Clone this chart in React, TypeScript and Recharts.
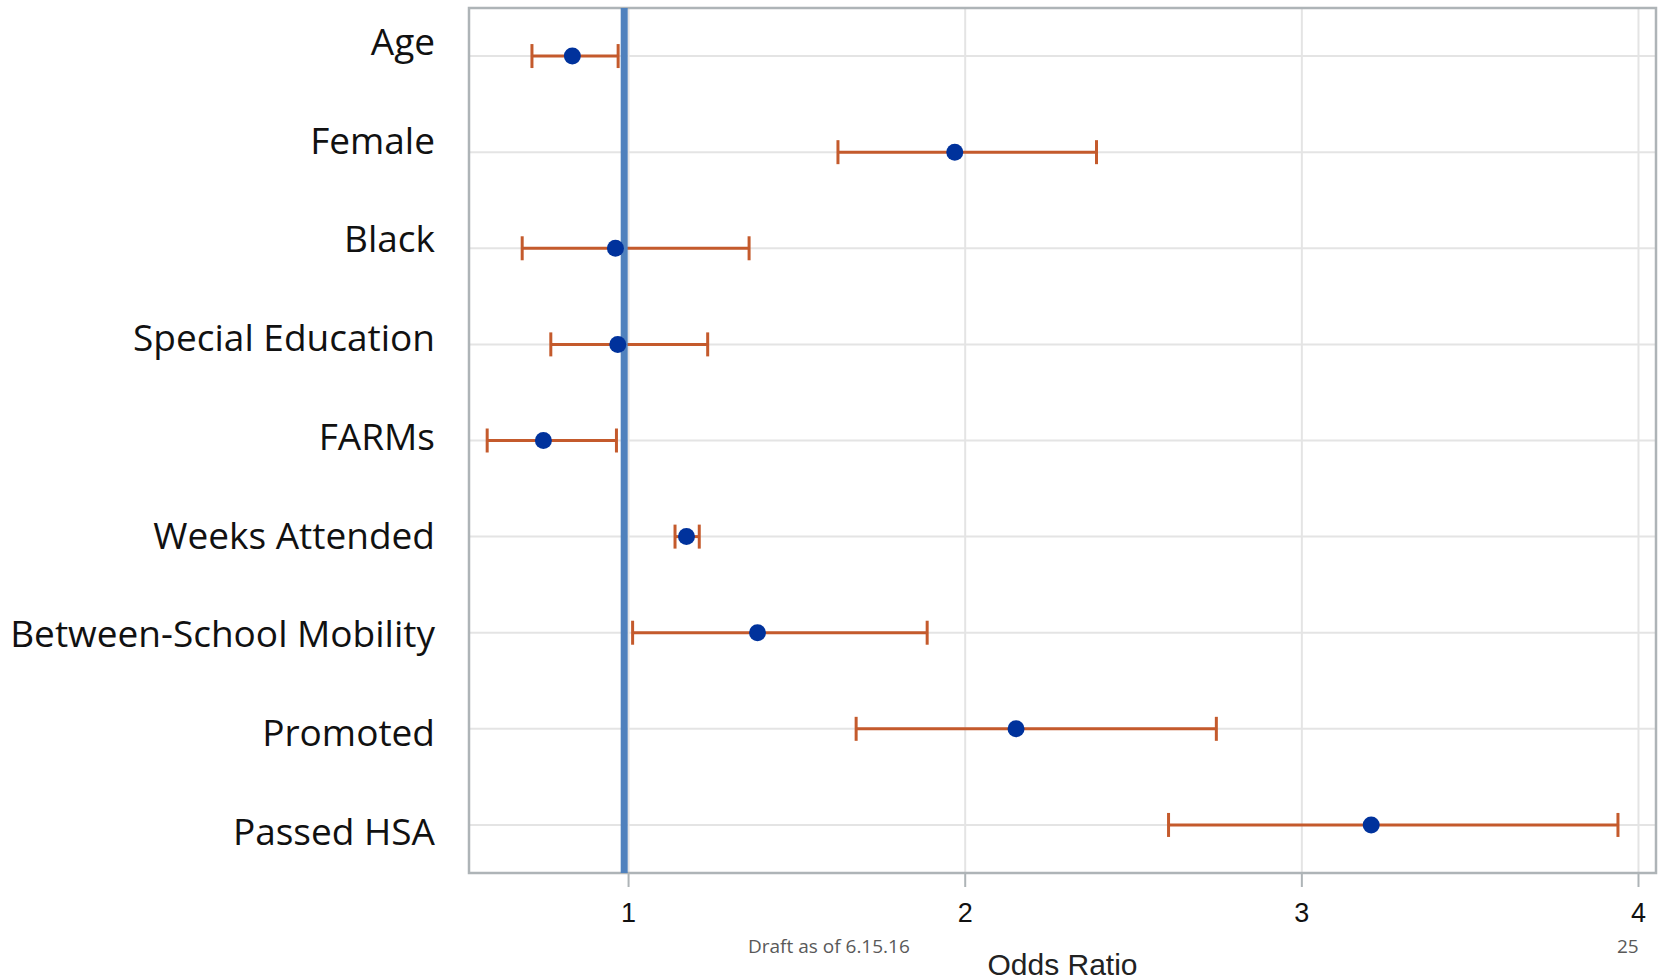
import {
  ScatterChart,
  Scatter,
  XAxis,
  YAxis,
  CartesianGrid,
  ErrorBar,
  ReferenceLine,
  ReferenceArea,
  Label,
} from 'recharts';

const CATEGORIES = [
  'Age',
  'Female',
  'Black',
  'Special Education',
  'FARMs',
  'Weeks Attended',
  'Between-School Mobility',
  'Promoted',
  'Passed HSA',
];
const ODDS = [0.833, 1.969, 0.961, 0.968, 0.747, 1.172, 1.383, 2.151, 3.206];
const CI_LOW = [0.713, 1.622, 0.684, 0.769, 0.58, 1.138, 1.012, 1.676, 2.604];
const CI_HIGH = [0.969, 2.39, 1.358, 1.235, 0.964, 1.21, 1.887, 2.746, 3.939];
const X_TICKS = [1, 2, 3, 4];
const X_DOMAIN = [0.526, 4.052];
const NULL_LINE = 0.987;

const data = CATEGORIES.map((name, i) => ({
  name,
  odds: ODDS[i],
  err: [ODDS[i] - CI_LOW[i], CI_HIGH[i] - ODDS[i]],
}));

// labels in the slide drift slightly lower than their rows going down
const CategoryTick = (props: any) => {
  const { x, y, payload, index } = props;
  return (
    <text
      x={x}
      y={y}
      dy={-1 + (index || 0) * 2.6}
      textAnchor="end"
      fill="#111"
      fontSize={37}
      fontFamily='"Open Sans", "Noto Sans", sans-serif'
    >
      {payload.value}
    </text>
  );
};

const Dot = (props: any) => <circle cx={props.cx} cy={props.cy} r={8.5} fill="#00329c" />;

export default function App() {
  return (
    <div style={{ position: 'absolute', left: 0, top: 0, width: 1661, height: 980, background: '#fff' }}>
      <ScatterChart width={1661} height={980} margin={{ top: 8, right: 5, left: 0, bottom: 0 }}>
        <CartesianGrid stroke="#e4e4e4" strokeWidth={2} />
        <ReferenceArea x1={X_DOMAIN[0]} x2={X_DOMAIN[1]} fill="none" stroke="#aeb4b7" strokeWidth={2.5} />
        <XAxis
          type="number"
          dataKey="odds"
          domain={X_DOMAIN}
          allowDataOverflow
          ticks={X_TICKS}
          axisLine={false}
          tickSize={14}
          tickMargin={16}
          tickLine={{ stroke: '#aeb4b7', strokeWidth: 2 }}
          tick={{ fill: '#111', fontSize: 27, fontFamily: '"Liberation Sans Narrow", "Liberation Sans", Arial, sans-serif' }}
          height={107}
        >
          <Label
            value="Odds Ratio"
            position="insideBottom"
            offset={5}
            fill="#222"
            fontSize={30}
            fontFamily='"Liberation Sans Narrow", "Liberation Sans", Arial, sans-serif'
          />
        </XAxis>
        <YAxis
          type="category"
          dataKey="name"
          reversed
          width={469}
          axisLine={false}
          tickLine={false}
          tickSize={0}
          tickMargin={34}
          tick={<CategoryTick />}
          interval={0}
        />
        <Scatter data={data} shape={<Dot />} isAnimationActive={false}>
          <ErrorBar dataKey="err" direction="x" width={12} stroke="#c45a2c" strokeWidth={3} />
        </Scatter>
        <ReferenceLine x={NULL_LINE} stroke="#4f81bd" strokeWidth={7} />
      </ScatterChart>
      <div
        style={{
          position: 'absolute',
          left: 748,
          top: 933,
          fontFamily: '"Open Sans", sans-serif',
          fontSize: 19,
          color: '#595959',
        }}
      >
        Draft as of 6.15.16
      </div>
      <div
        style={{
          position: 'absolute',
          left: 1617,
          top: 933,
          fontFamily: '"Open Sans", sans-serif',
          fontSize: 19,
          color: '#595959',
        }}
      >
        25
      </div>
    </div>
  );
}
